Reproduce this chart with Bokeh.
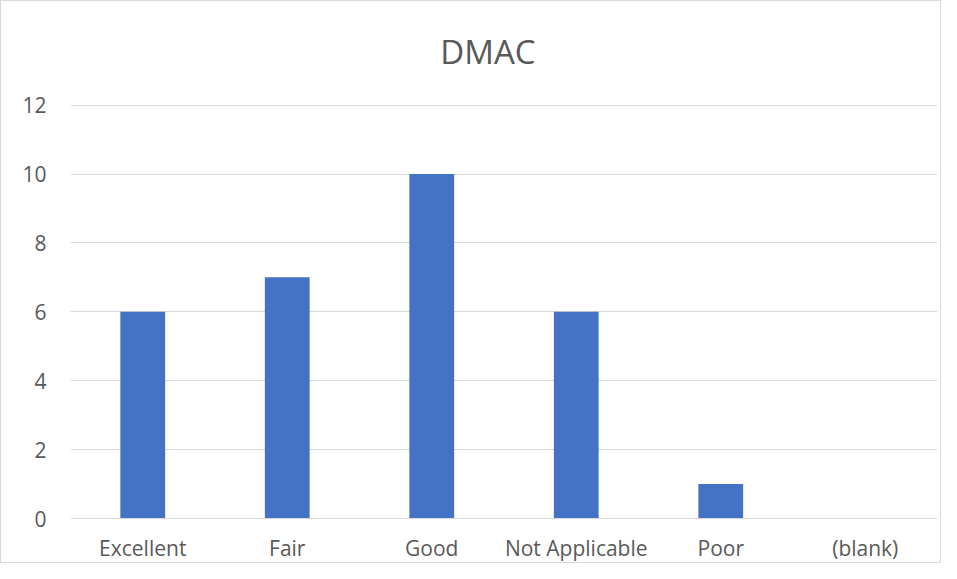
from bokeh.plotting import figure
from bokeh.models import FactorRange, Range1d, ColumnDataSource, FixedTicker, Label
from bokeh.embed import file_html
from bokeh.resources import INLINE

categories = ["Excellent", "Fair", "Good", "Not Applicable", "Poor", "(blank)"]
counts = [6, 7, 10, 6, 1, 0]
y_ticks = [0, 2, 4, 6, 8, 10, 12]
title_text = "DMAC"

src = ColumnDataSource(dict(cat=categories, val=counts))

# frame extends above the top tick so the chart title can sit inside it
px_per_unit = 415 / 12.0
frame_top, frame_bottom = 10, 519
y_end = (frame_bottom - frame_top) / px_per_unit
title_y = (frame_bottom - 50) / px_per_unit
title_x = (488 - 71) / (866 / len(categories))

p = figure(
    x_range=FactorRange(*categories, range_padding=0),
    y_range=Range1d(0, y_end),
    width=941, height=563,
    output_backend="svg", toolbar_location=None,
    min_border_left=69, min_border_right=5, min_border_top=frame_top, min_border_bottom=41,
)
p.styles = {"border": "1px solid #d9d9d9"}

p.vbar(x="cat", top="val", width=0.31, source=src, fill_color="#4472C4", line_color=None)

p.add_layout(Label(
    x=title_x, y=title_y, text=title_text,
    text_align="center", text_baseline="middle",
    text_font="Open Sans", text_font_size="33px", text_color="#595959",
))

p.outline_line_color = None
p.xgrid.grid_line_color = None
p.ygrid.grid_line_color = "#d9d9d9"
p.ygrid.grid_line_width = 1
p.yaxis.ticker = FixedTicker(ticks=y_ticks)

p.yaxis.axis_line_color = None
p.yaxis.major_tick_line_color = None
p.yaxis.minor_tick_line_color = None
p.yaxis.major_label_standoff = 18
p.xaxis.axis_line_color = "#d9d9d9"
p.xaxis.major_tick_line_color = None
p.xaxis.minor_tick_line_color = None
p.xaxis.major_label_standoff = 9
for ax in (p.xaxis, p.yaxis):
    ax.major_label_text_font = "Open Sans"
    ax.major_label_text_font_size = "21px"
    ax.major_label_text_color = "#595959"

open("out.html", "w").write(file_html(p, INLINE))
